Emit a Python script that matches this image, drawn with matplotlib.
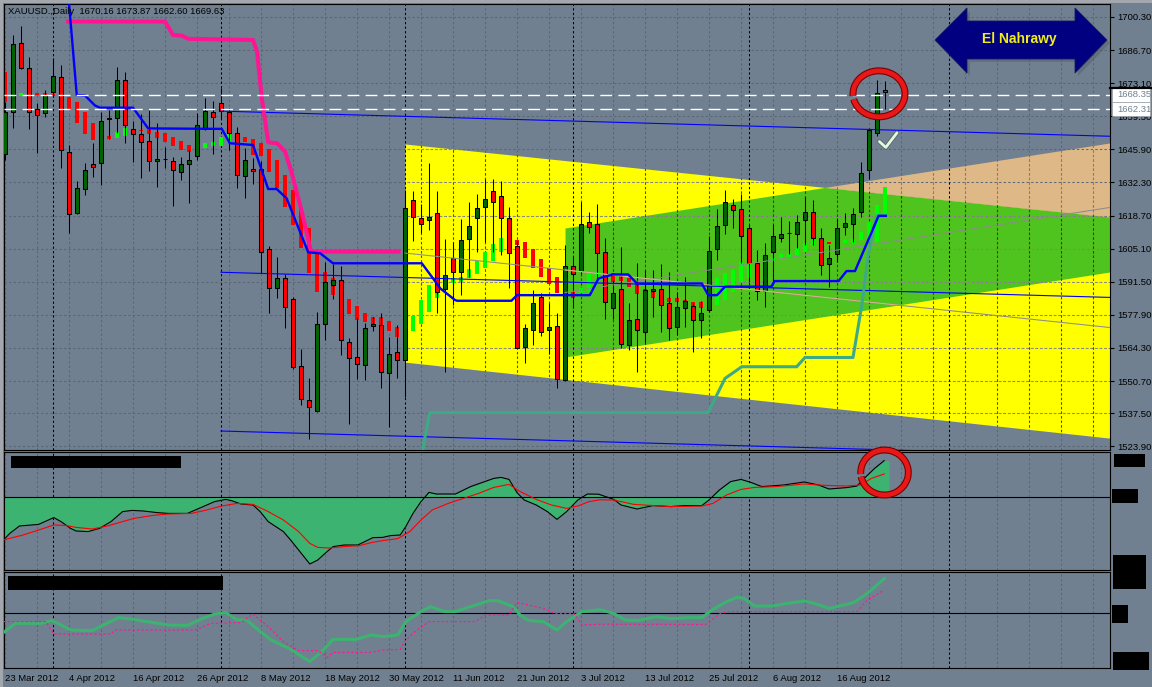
import numpy as np
import pandas as pd
import matplotlib
matplotlib.use('Agg')
import matplotlib.pyplot as plt
from matplotlib.patches import Polygon, Rectangle, Arc
from matplotlib.transforms import blended_transform_factory
import matplotlib.patheffects as pe

plt.rcParams['font.family'] = ['Liberation Sans', 'DejaVu Sans']

W, H = 1152, 687
BG = '#708090'
GRID = '#5A6675'
DASH = (0, (2.2, 2.2))

# ---------------- data ----------------
dates = pd.bdate_range('2012-03-23', '2012-08-24')   # 111 daily bars

open_ = [1643.9, 1661.4, 1689.5, 1679.2, 1662.4, 1661.0, 1669.6, 1675.6, 1644.8, 1619.8,
         1629.5, 1639.8, 1640.4, 1658.5, 1658.7, 1674.4, 1654.1, 1652.1, 1649.3, 1641.0,
         1642.0, 1641.1, 1636.7, 1640.0, 1643.0, 1654.1, 1661.4, 1664.8, 1661.4, 1652.5,
         1634.8, 1637.8, 1637.8, 1604.8, 1588.8, 1592.9, 1584.4, 1556.8, 1542.8, 1538.4,
         1574.0, 1590.2, 1592.1, 1566.6, 1560.7, 1557.3, 1573.3, 1573.7, 1553.9, 1562.5,
         1559.2, 1625.1, 1617.8, 1616.7, 1619.6, 1588.5, 1601.1, 1595.6, 1609.2, 1617.6,
         1622.1, 1628.6, 1626.6, 1617.6, 1606.2, 1564.6, 1571.6, 1585.4, 1571.6, 1573.5,
         1551.1, 1598.1, 1595.9, 1616.2, 1615.1, 1603.9, 1580.8, 1588.4, 1565.5, 1576.2,
         1570.7, 1587.7, 1588.4, 1582.6, 1572.8, 1580.6, 1581.5, 1575.8, 1579.9, 1604.8,
         1614.7, 1623.0, 1621.3, 1613.5, 1599.1, 1587.7, 1603.9, 1609.6, 1611.5, 1611.3,
         1617.0, 1620.0, 1609.3, 1598.7, 1602.8, 1613.9, 1615.1, 1620.0, 1637.3, 1652.5,
         1670.16]
high = [1665.5, 1692.9, 1696.6, 1683.7, 1664.8, 1670.3, 1683.6, 1680.6, 1647.7, 1632.9,
        1640.2, 1648.4, 1661.4, 1662.1, 1679.9, 1677.8, 1657.6, 1660.4, 1662.1, 1656.6,
        1647.0, 1642.9, 1642.9, 1646.0, 1660.7, 1667.1, 1665.8, 1671.0, 1662.8, 1655.0,
        1646.3, 1642.2, 1641.0, 1606.2, 1601.8, 1594.7, 1585.1, 1563.9, 1551.8, 1579.2,
        1599.7, 1598.6, 1598.0, 1568.5, 1577.2, 1574.4, 1577.2, 1578.8, 1568.9, 1573.7,
        1629.2, 1628.8, 1623.3, 1640.1, 1628.8, 1609.1, 1608.0, 1617.3, 1624.1, 1627.4,
        1633.6, 1633.6, 1632.9, 1622.2, 1608.4, 1574.2, 1588.0, 1586.7, 1582.6, 1578.5,
        1606.6, 1601.8, 1624.1, 1620.3, 1623.3, 1609.3, 1592.2, 1605.6, 1582.6, 1599.1,
        1596.3, 1596.3, 1598.7, 1595.6, 1587.4, 1593.6, 1582.6, 1583.6, 1610.4, 1621.4,
        1629.1, 1625.5, 1627.4, 1614.8, 1604.6, 1607.3, 1615.1, 1618.2, 1616.5, 1618.9,
        1626.4, 1625.1, 1613.5, 1606.6, 1617.6, 1619.6, 1621.9, 1640.8, 1654.5, 1674.3,
        1673.87]
low = [1641.5, 1654.8, 1678.9, 1654.3, 1644.5, 1659.3, 1667.6, 1638.4, 1611.7, 1619.2,
       1627.1, 1634.6, 1631.3, 1650.2, 1652.5, 1648.7, 1640.9, 1634.0, 1637.2, 1630.6,
       1638.1, 1622.8, 1633.3, 1624.0, 1641.4, 1653.9, 1643.9, 1658.5, 1645.6, 1630.2,
       1626.1, 1631.5, 1595.0, 1578.8, 1585.0, 1572.4, 1555.7, 1540.9, 1526.8, 1538.0,
       1567.6, 1584.3, 1561.4, 1532.9, 1551.6, 1551.1, 1571.3, 1548.0, 1532.0, 1552.1,
       1544.3, 1608.4, 1611.4, 1612.8, 1578.5, 1554.3, 1581.9, 1586.1, 1593.6, 1603.6,
       1608.0, 1603.6, 1602.5, 1589.1, 1564.1, 1558.0, 1565.5, 1569.4, 1561.7, 1547.7,
       1550.9, 1580.6, 1594.6, 1611.4, 1592.9, 1576.1, 1576.2, 1564.1, 1563.4, 1554.5,
       1566.2, 1577.1, 1571.0, 1567.6, 1569.6, 1573.0, 1562.8, 1568.5, 1579.2, 1600.6,
       1611.3, 1613.5, 1599.1, 1591.5, 1584.0, 1581.3, 1591.5, 1608.0, 1602.8, 1605.2,
       1606.6, 1606.6, 1594.3, 1589.5, 1599.8, 1610.7, 1608.0, 1618.2, 1633.7, 1651.5,
       1662.60]
close = [1661.1, 1689.1, 1679.5, 1661.4, 1660.0, 1668.2, 1676.0, 1645.8, 1619.5, 1630.0,
         1637.4, 1638.8, 1657.6, 1658.6, 1674.4, 1655.9, 1652.1, 1648.8, 1641.3, 1641.9,
         1642.0, 1637.3, 1639.8, 1641.4, 1655.9, 1661.7, 1659.0, 1661.7, 1652.5, 1635.4,
         1641.4, 1636.9, 1603.9, 1588.8, 1592.9, 1581.0, 1556.5, 1543.3, 1539.9, 1574.0,
         1591.3, 1592.1, 1567.6, 1560.0, 1557.6, 1572.4, 1574.1, 1554.3, 1561.7, 1559.3,
         1621.7, 1618.2, 1615.1, 1618.1, 1587.1, 1594.3, 1595.4, 1608.5, 1614.4, 1621.7,
         1625.5, 1624.1, 1617.6, 1603.2, 1564.2, 1572.4, 1582.6, 1571.0, 1573.1, 1551.4,
         1598.1, 1594.6, 1615.4, 1614.1, 1603.2, 1583.3, 1586.8, 1565.8, 1575.6, 1571.7,
         1588.0, 1588.5, 1581.9, 1572.4, 1581.0, 1583.7, 1576.0, 1578.5, 1604.1, 1614.4,
         1624.1, 1620.8, 1610.4, 1599.1, 1587.7, 1602.5, 1610.4, 1611.1, 1611.6, 1615.9,
         1620.0, 1609.3, 1598.4, 1601.4, 1613.5, 1615.5, 1619.2, 1636.0, 1653.8, 1668.9,
         1669.63]

# thin lime/red bars behind the candles (body low, body high, 1 = lime)
ha_lo = [1665.5, 1671.5, 1667.8, 1667.5, 1668.2, 1668.0, 1667.8, 1667.0, 1662.5, 1656.9,
         1652.2, 1649.8, 1645.0, 1650.1, 1650.4, 1651.5, 1652.1, 1653.4, 1652.2, 1650.7,
         1649.1, 1647.4, 1645.6, 1644.7, 1645.2, 1646.3, 1647.4, 1647.4, 1649.1, 1650.1,
         1649.1, 1643.6, 1643.3, 1636.5, 1629.9, 1622.4, 1614.8, 1605.2, 1594.9, 1587.4,
         1587.4, 1586.1, 1581.9, 1578.2, 1575.8, 1575.1, 1573.7, 1573.7, 1571.3, 1568.9,
         1571.3, 1571.3, 1574.0, 1579.2, 1584.7, 1591.5, 1590.8, 1591.5, 1593.2, 1594.5,
         1597.0, 1600.2, 1603.6, 1606.6, 1606.6, 1601.4, 1597.0, 1593.6, 1590.4, 1586.7,
         1586.1, 1584.7, 1586.7, 1587.4, 1592.9, 1593.0, 1591.5, 1591.9, 1589.5, 1586.3,
         1586.7, 1584.7, 1583.3, 1583.3, 1583.0, 1582.6, 1581.3, 1580.8, 1581.9, 1581.9,
         1584.0, 1587.4, 1591.5, 1592.9, 1592.9, 1597.0, 1599.7, 1600.4, 1601.1, 1602.5,
         1603.9, 1606.6, 1606.9, 1607.2, 1607.2, 1607.3, 1607.3, 1608.6, 1608.0, 1608.0,
         1618.9]
ha_hi = [1677.8, 1674.5, 1668.9, 1669.0, 1669.2, 1668.9, 1668.5, 1668.0, 1667.6, 1665.2,
         1661.4, 1656.9, 1650.0, 1651.5, 1652.9, 1654.5, 1653.9, 1653.9, 1653.9, 1653.2,
         1652.5, 1651.1, 1649.5, 1647.7, 1647.0, 1648.5, 1649.1, 1651.1, 1652.5, 1651.1,
         1651.1, 1650.1, 1648.4, 1646.0, 1641.5, 1635.4, 1629.2, 1621.7, 1613.4, 1603.9,
         1595.6, 1592.9, 1587.0, 1584.4, 1581.5, 1578.5, 1577.1, 1577.1, 1575.4, 1573.1,
         1577.4, 1577.4, 1584.0, 1590.2, 1587.4, 1592.9, 1592.9, 1593.6, 1596.7, 1600.2,
         1603.6, 1606.9, 1609.3, 1610.4, 1608.6, 1608.0, 1604.9, 1600.8, 1597.0, 1593.6,
         1590.2, 1587.4, 1588.8, 1595.6, 1595.6, 1595.0, 1594.9, 1593.9, 1592.9, 1591.5,
         1588.5, 1587.7, 1585.1, 1585.0, 1584.7, 1584.0, 1583.3, 1583.0, 1587.4, 1592.9,
         1594.9, 1596.3, 1599.7, 1599.7, 1599.1, 1600.4, 1601.1, 1602.8, 1603.2, 1605.2,
         1607.3, 1608.6, 1609.1, 1608.0, 1608.0, 1608.6, 1609.1, 1612.1, 1616.2, 1623.0,
         1630.6]
ha_up = [0, 1, 1, 0, 0, 0, 0, 0, 0, 0,
         0, 0, 0, 0, 1, 1, 1, 0, 0, 0,
         0, 0, 0, 0, 1, 1, 1, 1, 1, 0,
         0, 0, 0, 0, 0, 0, 0, 0, 0, 0,
         0, 0, 0, 0, 0, 0, 0, 0, 0, 0,
         1, 1, 1, 1, 1, 1, 1, 1, 1, 1,
         1, 1, 1, 1, 0, 0, 0, 0, 0, 0,
         0, 0, 1, 1, 1, 1, 0, 0, 0, 0,
         0, 0, 0, 0, 0, 0, 0, 0, 1, 1,
         1, 1, 1, 1, 1, 1, 1, 1, 1, 1,
         1, 1, 1, 0, 1, 1, 1, 1, 1, 1,
         1]

# thick blue, pink and teal step lines (bar index, price)
kij_x = [8.0, 8.97, 10.0, 11.25, 11.9, 16.0, 17.9, 27.1, 28.1, 31.0,
         32.9, 33.96, 35.2, 37.9, 39.4, 41.0, 52.1, 53.5, 54.4, 56.25,
         56.5, 63.3, 64.0, 73.1, 74.2, 76.0, 77.9, 79.0, 87.1, 87.9,
         89.0, 90.0, 95.8, 96.2, 104.2, 105.2, 106.25, 109.2, 110.1]
kij_y = [1706.0, 1668.2, 1668.0, 1663.9, 1663.0, 1663.0, 1654.5, 1654.3, 1648.4, 1647.7,
         1629.6, 1629.6, 1625.8, 1603.6, 1603.2, 1599.1, 1599.1, 1592.9, 1588.8, 1584.0,
         1583.7, 1583.7, 1586.0, 1586.0, 1592.9, 1594.5, 1594.5, 1590.8, 1590.8, 1586.0,
         1586.0, 1589.5, 1589.5, 1591.8, 1591.8, 1595.9, 1595.9, 1618.6, 1618.6]
pink_x = [7.9, 20.0, 21.0, 22.1, 22.9, 31.0, 31.5, 32.1, 32.9, 34.0, 35.0, 35.8, 37.1, 38.25, 49.2]
pink_y = [1698.4, 1698.4, 1692.9, 1692.6, 1691.3, 1690.8, 1686.1, 1666.9, 1648.8, 1648.4,
          1645.0, 1636.7, 1620.3, 1603.9, 1603.9]
teal_x = [52.0, 52.3, 53.1, 87.9, 90.0, 92.1, 98.96, 100.0, 106.0, 107.1, 107.9, 108.96, 110.1]
teal_y = [1515.0, 1524.4, 1537.8, 1537.8, 1551.8, 1556.6, 1556.6, 1560.4, 1560.4, 1581.9,
          1602.5, 1618.6, 1618.6]

# drawn objects: yellow triangle, green channel, blue equidistant channel
tri_x = [50, 140]
tri_top = [1648.1, 1617.5]
tri_bot = [1558.5, 1526.6]
chan_x = [70, 140]
chan_top = [1613.6, 1649.5]
chan_bot = [1560.6, 1596.5]
ch_x = [27, 140]
ch_up = [1661.6, 1651.1]
ch_mid = [1595.4, 1584.9]
ch_lo = [1530.2, 1519.7]
white_levels = [1668.35, 1662.31]
ask_level = 1671.0

price_ticks = [1700.30, 1686.70, 1673.10, 1659.50, 1645.90, 1632.30, 1618.70,
               1605.10, 1591.50, 1577.90, 1564.30, 1550.70, 1537.50, 1523.90]
grid_bars = list(range(0, 140, 4))
sep_bars = [6, 27, 50, 71, 93, 118]

# lower panel 1: oscillator (black), signal (red)
osc_x = [-0.2, 0.6, 1.8, 4.2, 6.1, 7.0, 8.2, 8.9, 10.4, 11.8,
         13.25, 14.7, 15.9, 17.3, 19.0, 20.4, 22.8, 24.25, 26.2, 27.6,
         28.3, 29.5, 31.0, 31.9, 32.9, 34.8, 35.7, 36.7, 38.1, 39.1,
         40.0, 41.0, 42.4, 44.1, 46.0, 47.2, 48.2, 49.4, 50.1, 51.0,
         52.0, 53.0, 53.9, 56.3, 58.2, 61.1, 62.0, 63.0, 64.0, 64.9,
         66.4, 67.8, 69.0, 70.2, 71.6, 72.8, 74.2, 76.1, 77.0, 79.0,
         81.0, 83.2, 84.9, 87.1, 88.0, 89.3, 90.7, 92.0, 93.3, 94.6,
         97.3, 99.9, 101.7, 103.0, 105.2, 106.5, 107.4, 108.7, 109.9]
osc_v = [-21.5, -18.2, -14.5, -13.7, -10.3, -12.3, -15.7, -17.0, -17.3, -15.7,
         -12.3, -7.3, -6.7, -7.0, -7.8, -8.2, -8.2, -5.7, -2.3, -1.2,
         -1.8, -3.5, -4.0, -7.3, -12.3, -17.3, -21.5, -26.5, -33.5, -31.5,
         -28.2, -24.8, -24.0, -24.0, -20.3, -20.2, -19.3, -19.0, -14.8, -8.2,
         -2.3, 2.3, 1.5, 1.5, 5.2, 9.3, 9.8, 8.8, 2.2, -1.5,
         -4.0, -7.3, -11.2, -7.3, -1.5, 1.5, 1.4, -1.2, -4.0, -6.0,
         -4.3, -4.8, -4.3, -4.3, -1.5, 3.5, 7.7, 8.8, 7.2, 5.2,
         6.0, 7.5, 6.0, 4.0, 4.7, 5.5, 9.3, 14.3, 18.2]
sig_x = [-0.2, 2.25, 4.2, 6.1, 7.5, 8.9, 10.9, 12.8, 14.7, 16.1,
         18.5, 20.4, 23.3, 25.2, 27.1, 29.0, 31.0, 32.9, 34.8, 36.7,
         38.1, 39.1, 40.5, 42.4, 44.3, 45.8, 47.2, 49.1, 50.6, 52.0,
         53.4, 55.4, 57.3, 59.2, 61.1, 63.0, 64.4, 66.4, 68.3, 70.2,
         71.6, 73.0, 74.4, 76.1, 78.6, 83.2, 87.1, 88.5, 90.2, 92.0,
         93.7, 96.4, 99.9, 102.6, 105.2, 106.9, 108.3, 109.9]
sig_v = [-21.5, -19.0, -16.5, -14.0, -14.2, -15.2, -16.0, -14.5, -12.3, -10.7,
         -9.2, -8.5, -8.2, -6.5, -4.5, -3.2, -3.7, -7.3, -11.5, -17.3,
         -23.2, -25.2, -25.5, -24.8, -24.3, -22.8, -21.8, -20.8, -17.3, -11.5,
         -6.5, -3.2, -0.7, 1.8, 4.8, 6.3, 2.7, -1.2, -4.0, -5.7,
         -4.5, -2.3, -1.4, -1.5, -3.7, -4.8, -4.5, -3.2, 1.0, 3.8,
         4.8, 5.2, 6.5, 5.8, 5.5, 6.0, 9.3, 11.5]

# lower panel 2: green line and pink dotted signal
rsi_x = [-0.2, 1.3, 3.2, 4.6, 5.8, 7.0, 8.2, 10.9, 12.3, 14.2,
         16.1, 18.5, 20.4, 22.8, 24.7, 26.2, 27.6, 29.0, 30.2, 31.9,
         33.3, 35.7, 38.1, 39.6, 41.0, 43.9, 45.8, 47.2, 49.1, 50.1,
         52.0, 53.2, 54.9, 56.3, 58.2, 60.6, 61.6, 63.5, 64.4, 65.4,
         67.3, 69.0, 70.2, 72.1, 74.4, 76.1, 77.5, 79.2, 81.4, 83.2,
         85.8, 87.1, 88.5, 90.2, 91.5, 92.4, 93.7, 95.9, 97.3, 99.9,
         101.2, 103.0, 104.3, 106.1, 107.8, 109.9]
rsi_v = [-9.8, -5.2, -5.2, -5.2, -3.7, -6.0, -8.5, -8.8, -6.0, -2.3,
         -3.2, -4.8, -6.0, -6.2, -2.7, -0.5, 0.2, -3.5, -3.5, -9.3,
         -13.5, -18.2, -24.3, -19.3, -13.2, -13.2, -11.0, -11.8, -11.0, -4.3,
         0.7, 3.2, 0.7, 0.7, 3.2, 6.2, 6.2, 3.2, -1.0, -3.7,
         -4.3, -8.5, -4.3, 0.7, 1.6, -0.2, -3.5, -3.7, -1.8, -2.8,
         -2.3, -2.3, 1.8, 5.7, 7.8, 7.3, 3.5, 3.5, 4.5, 6.0,
         4.8, 2.3, 3.5, 5.2, 9.8, 17.2]
rsig_x = [-0.2, 5.1, 6.1, 13.25, 13.7, 23.8, 25.7, 29.5, 31.0, 32.9,
          34.8, 36.7, 39.1, 40.3, 41.0, 45.8, 47.2, 49.4, 50.1, 51.5,
          53.0, 58.7, 60.1, 63.0, 64.0, 65.4, 67.3, 68.7, 71.1, 72.1,
          74.4, 87.6, 89.3, 90.2, 106.5, 107.8, 109.9]
rsig_v = [-4.3, -4.3, -10.5, -10.5, -8.5, -8.5, -5.2, -4.8, -0.5, -6.8,
          -14.3, -18.8, -18.8, -22.2, -19.7, -19.7, -18.5, -18.2, -13.5, -8.5,
          -4.3, -4.3, -1.0, -1.0, 5.3, 4.0, 2.3, -0.2, -0.2, -6.0,
          -5.6, -5.7, -0.5, 0.7, 0.7, 6.5, 11.5]

# annotations (bar, value)
circle_main = (109.25, 1668.7, 6.5, 18.9)
circle_osc = (109.94, 12.25, 5.95, 22.5)
check_x = [109.3, 110.1, 111.5]
check_y = [1649.1, 1646.7, 1652.7]

# ---------------- figure ----------------
fig = plt.figure(figsize=(W / 100, H / 100), dpi=100, facecolor=BG)


def box(l, t, r, b):
    return [l / W, 1 - b / H, (r - l) / W, (b - t) / H]


def fig_rect(l, t, r, b, color, z=10):
    fig.add_artist(Rectangle((l / W, 1 - b / H), (r - l) / W, (b - t) / H,
                             transform=fig.transFigure, color=color, lw=0, zorder=z))


ax = fig.add_axes(box(4, 4, 1110, 450))
p1 = fig.add_axes(box(4, 452, 1110, 570))
p2 = fig.add_axes(box(4, 572, 1110, 668))

for a in (ax, p1, p2):
    a.set_facecolor(BG)
    for s in a.spines.values():
        s.set_color('black')
        s.set_linewidth(0.8)
    a.vlines(grid_bars, 0, 1, transform=a.get_xaxis_transform(), colors=GRID,
             linestyles=DASH, lw=0.75, zorder=1)
    a.vlines(sep_bars, 0, 1, transform=a.get_xaxis_transform(), colors='black',
             linestyles=DASH, lw=0.75, zorder=1.6)
    a.set_xticks([])
    a.set_yticks([])

bars = np.arange(len(dates))

# --- main chart ---
ax.hlines(price_ticks, 0, 1, transform=ax.get_yaxis_transform(), colors=GRID,
          linestyles=DASH, lw=0.75, zorder=1)

xs = np.linspace(tri_x[0], tri_x[1], 800)
yt = np.interp(xs, tri_x, tri_top)
yb = np.interp(xs, tri_x, tri_bot)
yel = ax.fill_between(xs, yb, yt, color='#FFFF00', lw=0, zorder=0.6)
xs2 = np.linspace(chan_x[0], chan_x[1], 800)
ct = np.interp(xs2, chan_x, chan_top)
cb = np.interp(xs2, chan_x, chan_bot)
yt2 = np.interp(xs2, tri_x, tri_top)
grn = ax.fill_between(xs2, cb, np.minimum(ct, yt2), color='#50C41E', lw=0, zorder=0.7)
tan = ax.fill_between(xs2, yt2, ct, where=ct > yt2, interpolate=True,
                      color='#DEB887', lw=0, zorder=0.7)


def clip_to(artist, coll):
    artist.set_clip_path(coll.get_paths()[0], ax.transData)


gh = ax.hlines(price_ticks, -1, 141, colors='#8C8C8C', linestyles=DASH, lw=0.75, zorder=1.05)
clip_to(gh, yel)
rv = ax.vlines(grid_bars, 1500, 1720, colors='#FF0000', linestyles=DASH, lw=0.75, zorder=1.1)
clip_to(rv, yel)
dv = ax.vlines(grid_bars, 1500, 1720, colors='#2E4A1E', linestyles=DASH, lw=0.75, zorder=1.2)
clip_to(dv, grn)
pv = ax.vlines(grid_bars, 1500, 1720, colors='#D05878', linestyles=DASH, lw=0.75, zorder=1.2)
clip_to(pv, tan)

# midlines of the two objects
tri_mid = (np.array(tri_top) + np.array(tri_bot)) / 2
chan_mid = (np.array(chan_top) + np.array(chan_bot)) / 2
ax.plot(tri_x, tri_mid, color='#8C8C8C', lw=0.75, zorder=3.4)
tm = ax.plot(tri_x, tri_mid, color='#D8B48A', lw=0.75, zorder=3.41)[0]
clip_to(tm, grn)
ax.plot(chan_x, chan_mid, color='#8C8C8C', lw=0.75, zorder=3.4)

for yy in (ch_up, ch_mid, ch_lo):
    ax.plot(ch_x, yy, color='#0000FF', lw=0.8, zorder=3.5)

# thin lime / red bars
ha_lo_a = np.array(ha_lo)
ha_h = np.maximum(np.array(ha_hi) - ha_lo_a, 0.6)
ax.bar(bars, ha_h, bottom=ha_lo_a, width=0.45,
       color=['#00FF00' if u else '#FF0000' for u in ha_up], lw=0, zorder=2)

# candles
o = np.array(open_)
c = np.array(close)
ax.vlines(bars, low, high, colors='black', lw=0.75, zorder=2.9)
body_lo = np.minimum(o, c)
body_h = np.maximum(np.abs(c - o), 0.05)
ax.bar(bars, body_h, bottom=body_lo, width=0.62,
       color=['#006400' if cc >= oo else '#FF0000' for oo, cc in zip(o, c)],
       edgecolor='black', lw=0.75, zorder=3)

ax.plot(teal_x, teal_y, color='#3DAA86', lw=2.2, zorder=4)
ax.plot(pink_x, pink_y, color='#FF1493', lw=2.9, zorder=4.2)
ax.plot(kij_x, kij_y, color='#0000FF', lw=1.7, zorder=4.4)

for lv in white_levels:
    ax.axhline(lv, color='white', lw=1.0, dashes=(8.5, 4.5), zorder=5)

ax.set_xlim(-0.125, 138.125)
ax.set_ylim(1522.4, 1705.6)
ax.yaxis.tick_right()
ax.set_yticks(price_ticks)
ax.set_yticklabels([f'{v:.2f}' for v in price_ticks])
ax.tick_params(axis='y', direction='out', length=3, width=0.8, pad=2.5,
               labelsize=6.8, colors='black')

blend = blended_transform_factory(ax.transAxes, ax.transData)
for lv in white_levels:
    ax.add_patch(Rectangle((1 + 2 / 1106, lv - 2.85), 38 / 1106, 5.7, transform=blend,
                           facecolor='white', edgecolor='#9AA0A8', lw=0.5,
                           clip_on=False, zorder=6))
    ax.text(1 + 7 / 1106, lv, f'{lv:.2f}', transform=blend, va='center', ha='left',
            fontsize=6.8, color=BG, zorder=7, clip_on=False)
ax.plot([1, 1 + 42 / 1106], [ask_level, ask_level], transform=blend, color='black',
        lw=1.6, clip_on=False, zorder=6)

ax.text(4 / 1106, (450 - 12) / 446,
        f'XAUUSD.,Daily  {open_[-1]:.2f} {high[-1]:.2f} {low[-1]:.2f} {close[-1]:.2f}',
        transform=ax.transAxes, fontsize=6.8, va='center', ha='left', color='black', zorder=6)

ring = [pe.Stroke(linewidth=5.0, foreground='#7A0000'), pe.Normal()]
cx, cy, cw, chh = circle_main
ax.add_patch(Arc((cx, cy), cw, chh, theta1=215, theta2=555, lw=3.4, color='#E81818',
                 zorder=8, clip_on=False, path_effects=ring))
ax.plot(check_x, check_y, color='#EAF5EA', lw=2.0, solid_capstyle='round',
        solid_joinstyle='round', zorder=8,
        path_effects=[pe.Stroke(linewidth=3.2, foreground='#4F6F5A'), pe.Normal()])

# --- panel 1 ---
p1.fill_between(osc_x + [110.5], osc_v + [osc_v[-1]], 0, color='#3CB371', lw=0, zorder=2)
p1.axhline(0, color='black', lw=0.8, zorder=2.5)
p1.plot(osc_x, osc_v, color='black', lw=0.8, zorder=3)
p1.plot(sig_x, sig_v, color='#FF0000', lw=0.8, zorder=3.1)
cx, cy, cw, chh = circle_osc
p1.add_patch(Arc((cx, cy), cw, chh, theta1=215, theta2=555, lw=3.4, color='#E81818',
                 zorder=8, clip_on=False, path_effects=ring))
p1.set_xlim(-0.125, 138.125)
p1.set_ylim(-36.5, 22.5)

# --- panel 2 ---
p2.axhline(0, color='black', lw=0.8, zorder=2.5)
p2.plot(rsi_x, rsi_v, color='#3CB371', lw=2.2, zorder=3)
p2.plot(rsig_x, rsig_v, color='#FF1493', lw=0.8, dashes=(2, 2), zorder=3.1)
p2.set_xlim(-0.125, 138.125)
p2.set_ylim(-27.5, 20.5)
lab_bars = bars[::8]
p2.set_xticks(lab_bars)
p2.set_xticklabels([f'{d.day} {d.strftime("%b %Y")}' for d in dates[::8]],
                   ha='left', fontsize=6.8)
p2.tick_params(axis='x', length=0, pad=4, colors='black')

# --- frame strips, redacted blocks, logo ---
fig_rect(0, 0, W, 3, '#A3A8AE', z=9)
fig_rect(0, 0, 3, H, '#A3A8AE', z=9)
for l, t, r, b in [(11, 456, 181, 468), (8, 576, 223, 590), (1114, 454, 1145, 467),
                   (1112, 489, 1138, 503), (1113, 555, 1146, 589),
                   (1112, 605, 1128, 623), (1113, 652, 1149, 670)]:
    fig_rect(l, t, r, b, 'black')

arrow_px = [(935, 40), (967, 8), (967, 21), (1075, 21), (1075, 8), (1107, 40),
            (1075, 73), (1075, 59), (967, 59), (967, 73)]
fig.add_artist(Polygon([((x + 3) / W, 1 - (y + 3) / H) for x, y in arrow_px],
                       transform=fig.transFigure, color='#4A525E', alpha=0.35, lw=0, zorder=11))
fig.add_artist(Polygon([(x / W, 1 - y / H) for x, y in arrow_px],
                       transform=fig.transFigure, facecolor='#000080', edgecolor='#1A1A60',
                       lw=0.6, zorder=12))
fig.text(1019 / W, 1 - 39 / H, 'El Nahrawy', color='#F2EE1C', fontsize=10,
         fontweight='bold', ha='center', va='center', zorder=13)

fig.savefig('out.png', dpi=100, facecolor=BG)
